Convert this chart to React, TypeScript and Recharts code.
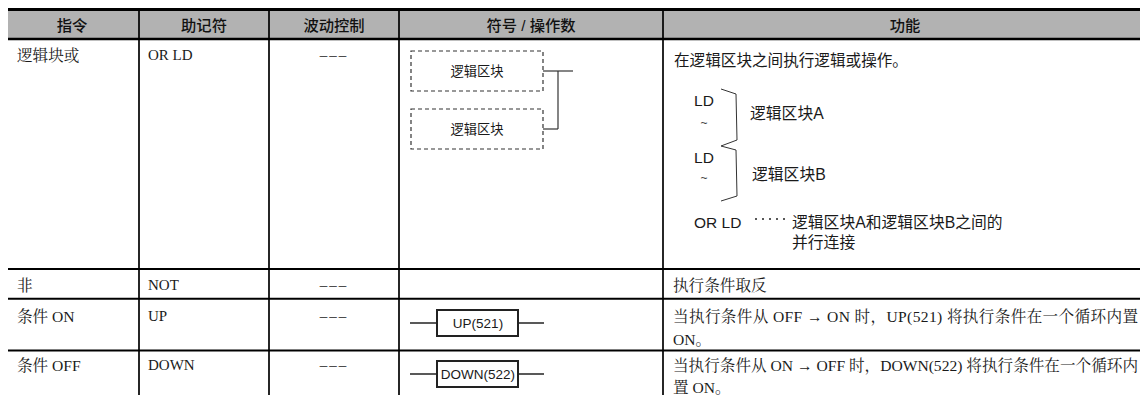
import { ScatterChart, Scatter, XAxis, YAxis, ReferenceLine, ReferenceArea } from 'recharts';

const WIDTH = 1140;
const HEIGHT = 395;

const SERIF = '"Liberation Serif", "Noto Serif CJK SC", "Noto Sans CJK SC", serif';
const SANS = '"Liberation Sans", "Noto Sans CJK SC", sans-serif';

// table structure
const columnEdges = [139, 269, 399, 663];
const rowEdges = [269, 298.8, 350.5];

const headers = ['指令', '助记符', '波动控制', '符号 / 操作数', '功能'];
const headerCenters = [72, 204, 334, 531, 905];

const instructions = ['逻辑块或', '非', '条件 ON', '条件 OFF'];
const mnemonics = ['OR LD', 'NOT', 'UP', 'DOWN'];
const waveControl = ['–––', '–––', '–––', '–––'];
const rowTextY = [55, 285, 316, 365];

const functionLines = [
  '执行条件取反',
  '当执行条件从 OFF → ON 时，UP(521) 将执行条件在一个循环内置',
  'ON。',
  '当执行条件从 ON → OFF 时，DOWN(522) 将执行条件在一个循环内',
  '置 ON。',
];
const functionLineY = [285, 316, 339, 365, 387];
const functionLineFit = [0, 465, 0, 465, 0];

const orLdLines = ['在逻辑区块之间执行逻辑或操作。'];
const blockNotes = ['逻辑区块A', '逻辑区块B', '逻辑区块A和逻辑区块B之间的', '并行连接'];
const blockNoteX = [750, 752, 792, 792];
const blockNoteY = [113, 174, 222, 242];

const ldLabels = ['LD', 'LD'];
const ldY = [100, 157];
const tildeY = [123, 178];

const braceA = [
  { x: 721, y: 89 },
  { x: 736, y: 94 },
  { x: 737, y: 140 },
  { x: 721, y: 146 },
];
const braceB = [
  { x: 721, y: 146 },
  { x: 736, y: 150 },
  { x: 737, y: 196 },
  { x: 721, y: 201 },
];

const blockLabels = ['逻辑区块', '逻辑区块'];
const blockTop = [51, 109];
const blockBottom = [91, 149];
const blockMidY = [71, 129];

const relayLabels = ['UP(521)', 'DOWN(522)'];
const relayTop = [310, 361];
const relayBottom = [336, 387];
const relayMidY = [323, 374];

const pick = (labels: string[], xs: number[], ys: number[]) =>
  labels.map((label, i) => ({ label, x: xs[i], y: ys[i] }));
const atX = (labels: string[], x: number, ys: number[]) =>
  labels.map((label, i) => ({ label, x, y: ys[i] }));

function textShape(opts: {
  family: string;
  size: number;
  anchor?: 'start' | 'middle';
  weight?: number;
  fill?: string;
  spacing?: number;
}) {
  return (p: any) => (
    <text
      x={p.cx}
      y={p.cy}
      fontFamily={opts.family}
      fontSize={opts.size}
      fontWeight={opts.weight ?? 400}
      textAnchor={opts.anchor ?? 'start'}
      dominantBaseline="central"
      fill={opts.fill ?? '#1a1a1a'}
      letterSpacing={opts.spacing}
      textLength={p.payload.fit || undefined}
    >
      {p.payload.label}
    </text>
  );
}

const noPoint = () => <g />;

export default function App() {
  return (
    <div style={{ position: 'absolute', left: 0, top: 0, width: WIDTH, height: HEIGHT, background: '#fff' }}>
      <ScatterChart width={WIDTH} height={HEIGHT} margin={{ top: 0, right: 0, bottom: 0, left: 0 }}>
        <XAxis type="number" dataKey="x" domain={[0, WIDTH]} hide />
        <YAxis type="number" dataKey="y" domain={[0, HEIGHT]} reversed hide />

        <ReferenceArea x1={8} x2={WIDTH} y1={11} y2={38} fill="#b2b2b2" fillOpacity={1} stroke="none" />

        <ReferenceLine segment={[{ x: 8, y: 9.5 }, { x: WIDTH, y: 9.5 }]} stroke="#000" strokeWidth={3} />
        <ReferenceLine segment={[{ x: 8, y: 39 }, { x: WIDTH, y: 39 }]} stroke="#000" strokeWidth={2.6} />
        {rowEdges.map((y) => (
          <ReferenceLine key={y} segment={[{ x: 8, y }, { x: WIDTH, y }]} stroke="#000" strokeWidth={2} />
        ))}
        {columnEdges.map((x) => (
          <ReferenceLine key={x} segment={[{ x, y: 8 }, { x, y: HEIGHT }]} stroke="#000" strokeWidth={1.7} />
        ))}

        {/* logic block symbol */}
        {blockTop.map((top, i) => (
          <ReferenceArea
            key={top}
            x1={411}
            x2={543}
            y1={top}
            y2={blockBottom[i]}
            fill="none"
            stroke="#333"
            strokeWidth={1.2}
            strokeDasharray="4 3"
          />
        ))}
        <ReferenceLine segment={[{ x: 543, y: 71 }, { x: 573, y: 71 }]} stroke="#333" strokeWidth={1.2} />
        <ReferenceLine segment={[{ x: 558, y: 71 }, { x: 558, y: 129 }]} stroke="#333" strokeWidth={1.2} />
        <ReferenceLine segment={[{ x: 543, y: 129 }, { x: 558, y: 129 }]} stroke="#333" strokeWidth={1.2} />

        {/* UP / DOWN symbols */}
        {relayTop.map((top, i) => (
          <ReferenceArea
            key={top}
            x1={437}
            x2={518}
            y1={top}
            y2={relayBottom[i]}
            fill="#fff"
            fillOpacity={1}
            stroke="#222"
            strokeWidth={2}
          />
        ))}
        {relayMidY.map((y) => (
          <ReferenceLine key={`l${y}`} segment={[{ x: 410, y }, { x: 437, y }]} stroke="#222" strokeWidth={1.5} />
        ))}
        {relayMidY.map((y) => (
          <ReferenceLine key={`r${y}`} segment={[{ x: 518, y }, { x: 544, y }]} stroke="#222" strokeWidth={1.5} />
        ))}

        {/* LD dots */}
        <ReferenceLine segment={[{ x: 755, y: 219 }, { x: 787, y: 219 }]} stroke="#222" strokeWidth={1.5} strokeDasharray="2 5" />

        <Scatter data={braceA} line={{ stroke: '#333', strokeWidth: 1 }} shape={noPoint} isAnimationActive={false} />
        <Scatter data={braceB} line={{ stroke: '#333', strokeWidth: 1 }} shape={noPoint} isAnimationActive={false} />

        <Scatter
          data={pick(headers, headerCenters, headers.map(() => 25))}
          shape={textShape({ family: SANS, size: 15.3, anchor: 'middle', weight: 500, fill: '#111' })}
          isAnimationActive={false}
        />
        <Scatter data={atX(instructions, 17, rowTextY)} shape={textShape({ family: SERIF, size: 15.6 })} isAnimationActive={false} />
        <Scatter data={atX(mnemonics, 148, rowTextY)} shape={textShape({ family: SERIF, size: 15 })} isAnimationActive={false} />
        <Scatter
          data={atX(waveControl, 334, rowTextY)}
          shape={textShape({ family: SERIF, size: 15, anchor: 'middle', spacing: 2 })}
          isAnimationActive={false}
        />
        <Scatter
          data={atX(functionLines, 673, functionLineY).map((d, i) => ({ ...d, fit: functionLineFit[i] }))}
          shape={textShape({ family: SERIF, size: 15.6 })}
          isAnimationActive={false}
        />
        <Scatter data={atX(orLdLines, 674, [60])} shape={textShape({ family: SANS, size: 15.6 })} isAnimationActive={false} />
        <Scatter data={pick(blockNotes, blockNoteX, blockNoteY)} shape={textShape({ family: SANS, size: 15.8 })} isAnimationActive={false} />
        <Scatter
          data={atX(ldLabels, 704, ldY)}
          shape={textShape({ family: SANS, size: 15.5, anchor: 'middle' })}
          isAnimationActive={false}
        />
        <Scatter
          data={[{ label: '~', x: 704, y: tildeY[0] }, { label: '~', x: 704, y: tildeY[1] }]}
          shape={textShape({ family: SANS, size: 12, anchor: 'middle', fill: '#444' })}
          isAnimationActive={false}
        />
        <Scatter data={atX(['OR LD'], 694, [222])} shape={textShape({ family: SANS, size: 15.5 })} isAnimationActive={false} />
        <Scatter
          data={atX(blockLabels, 477, blockMidY)}
          shape={textShape({ family: SANS, size: 13.3, anchor: 'middle' })}
          isAnimationActive={false}
        />
        <Scatter
          data={atX(relayLabels, 478, relayMidY)}
          shape={textShape({ family: SANS, size: 13.5, anchor: 'middle' })}
          isAnimationActive={false}
        />
      </ScatterChart>
    </div>
  );
}
